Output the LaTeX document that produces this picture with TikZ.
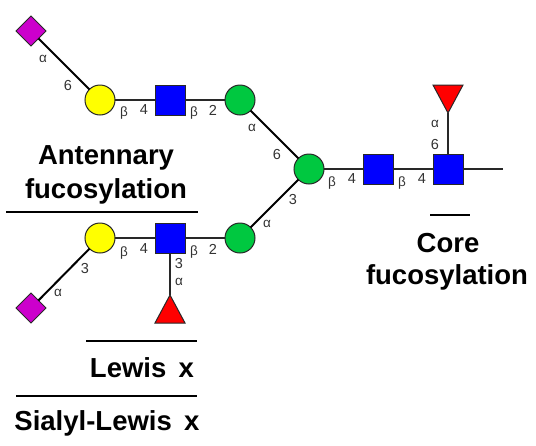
\documentclass[tikz,border=0pt]{standalone}
\usepackage{fontspec}
\setmainfont{Liberation Sans}
\usetikzlibrary{shapes.geometric}
\definecolor{gyellow}{RGB}{255,255,0}
\definecolor{gblue}{RGB}{0,0,255}
\definecolor{ggreen}{RGB}{0,200,64}
\definecolor{gmag}{RGB}{204,0,204}
\definecolor{gred}{RGB}{255,0,0}
\definecolor{gline}{RGB}{40,40,40}
\tikzset{
  glyph/.style={draw=gline,line width=1pt,inner sep=0pt,outer sep=0pt},
  gal/.style={glyph,circle,fill=#1,minimum size=30pt},
  glc/.style={glyph,rectangle,fill=gblue,minimum size=30pt},
  sia/.style={glyph,diamond,fill=gmag,minimum size=30pt},
  fucbase/.style={glyph,isosceles triangle,isosceles triangle stretches,fill=gred,minimum width=30pt,minimum height=28pt},
  link/.style={draw=gline,line width=1.4pt},
  diag/.style={draw=black,line width=2pt},
  rulebar/.style={draw=black,line width=2.4pt},
  lab/.style={font=\fontsize{14.5}{15}\selectfont,text=black!80,inner sep=0pt},
  gk/.style={font=\fontsize{13.5}{15}\selectfont,text=black!80,inner sep=0pt},
  title/.style={font=\fontsize{27.5}{30}\selectfont\bfseries,text=black,inner sep=0pt,anchor=center}
}
\begin{document}
\begin{tikzpicture}[x=1pt,y=-1pt]
\useasboundingbox (0,0) rectangle (536,445);
\fill[white] (0,0) rectangle (536,445);
% glyphs
\node[sia] (s1) at (31,31) {};
\node[gal=gyellow] (y1) at (100,100) {};
\node[glc] (b1) at (170,100) {};
\node[gal=ggreen] (g1) at (240,100) {};
\node[gal=ggreen] (gc) at (309,169) {};
\node[glc] (b3) at (378,169) {};
\node[glc] (b4) at (448,169) {};
\node[gal=gyellow] (y2) at (100,238) {};
\node[glc] (b2) at (170,238) {};
\node[gal=ggreen] (g2) at (240,238) {};
\node[sia] (s2) at (31,308) {};
\node[fucbase,shape border rotate=-90,anchor=apex] (f1) at (448,113) {};
\node[fucbase,shape border rotate=90,anchor=apex] (f2) at (170,295) {};
\coordinate (rootend) at (503,169);
% connectors
\draw[diag] (s1) -- (y1);
\draw[link] (y1) -- (b1);
\draw[link] (b1) -- (g1);
\draw[diag] (g1) -- (gc);
\draw[link] (gc) -- (b3);
\draw[link] (b3) -- (b4);
\draw[link] (b4) -- (rootend);
\draw[link] (b4.north) -- (f1.apex);
\draw[diag] (s2) -- (y2);
\draw[link] (y2) -- (b2);
\draw[link] (b2) -- (g2);
\draw[diag] (g2) -- (gc);
\draw[link] (b2.south) -- (f2.apex);
% linkage labels
\node[gk] (l1) at (43,59) {α};
\node[lab] (l2) at (68,86) {6};
\node[gk] (l3) at (124,113) {β};
\node[lab] (l4) at (144,110) {4};
\node[gk] (l5) at (194,113) {β};
\node[lab] (l6) at (213,110) {2};
\node[gk] (l7) at (252,128) {α};
\node[lab] (l8) at (277,155) {6};
\node[lab] (l9) at (293,200) {3};
\node[gk] (l10) at (267,224) {α};
\node[gk] (l11) at (332,183) {β};
\node[lab] (l12) at (352,179) {4};
\node[gk] (l13) at (402,183) {β};
\node[lab] (l14) at (422,179) {4};
\node[gk] (l15) at (435,124) {α};
\node[lab] (l16) at (435,145) {6};
\node[gk] (l17) at (124,253) {β};
\node[lab] (l18) at (144,249) {4};
\node[gk] (l19) at (194,252) {β};
\node[lab] (l20) at (213,249) {2};
\node[lab] (l21) at (85,269) {3};
\node[gk] (l22) at (58,293) {α};
\node[lab] (l23) at (179,264) {3};
\node[gk] (l24) at (179,282) {α};
% titles
\node[title] (t1) at (106,158) {Antennary};
\node[title] (t2) at (106,191) {fucosylation};
\node[title] (t3) at (142,368) {Lewis\hspace{0.45em}x};
\node[title] (t4) at (107,423) {Sialyl-Lewis\hspace{0.45em}x};
\node[title] (t5) at (448,243) {Core};
\node[title] (t6) at (447,277) {fucosylation};
% rules
\draw[rulebar] (6,212) -- (198,212);
\draw[rulebar] (86,341) -- (197,341);
\draw[rulebar] (16,396) -- (197,396);
\draw[rulebar] (430,215) -- (470,215);
\end{tikzpicture}
\end{document}
